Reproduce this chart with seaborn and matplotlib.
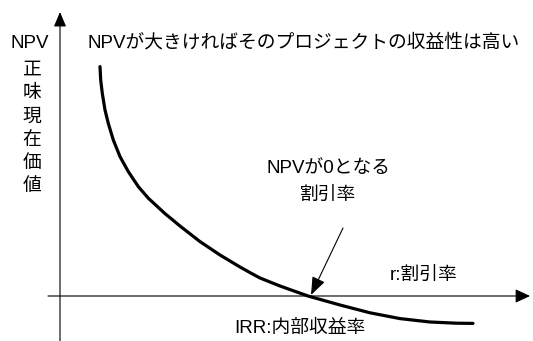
import matplotlib
matplotlib.use("Agg")
import matplotlib.pyplot as plt
import seaborn as sns
import pandas as pd

# Curve data: discount rate r vs NPV (arbitrary units)
rate = [2.0, 2.035, 2.115, 2.25, 2.415, 2.665, 3.0, 3.415, 3.915, 4.415, 5.25,
        6.0, 7.0, 8.0, 9.0, 9.5, 10.0, 11.0, 12.4, 14.0, 15.5, 17.0, 18.5, 19.83, 20.65]
npv = [11.47, 10.8, 10.13, 9.3, 8.63, 7.8, 6.97, 6.22, 5.47, 4.89, 4.12,
       3.5, 2.72, 2.05, 1.45, 1.17, 0.9, 0.5, 0.0, -0.45, -0.84, -1.13, -1.3, -1.36, -1.37]

title_text = "NPVが大きければそのプロジェクトの収益性は高い"
y_label_top = "NPV"
y_label_chars = ["正", "味", "現", "在", "価", "値"]
x_label = "r:割引率"
irr_label = "IRR:内部収益率"
note_lines = ["NPVが0となる", "割引率"]

sns.set_theme(style="white")
plt.rcParams["font.family"] = ["Liberation Sans", "Noto Sans CJK JP", "DejaVu Sans"]

fig = plt.figure(figsize=(5.33, 3.41), dpi=100)
ax = fig.add_axes([0, 0, 1, 1])
ax.set_xlim(-3.0, 23.65)
ax.set_ylim(-2.25, 14.8)
ax.axis("off")

df = pd.DataFrame({"r": rate, "NPV": npv})
sns.lineplot(data=df, x="r", y="NPV", ax=ax, color="black", lw=2.3,
             sort=False, zorder=3, legend=False)

# vertical axis with arrow
ax.annotate("", xy=(0, 14.2), xytext=(0, -2.25),
            arrowprops=dict(arrowstyle="-|>,head_length=0.9,head_width=0.38",
                            mutation_scale=10, lw=0.8, color="black",
                            shrinkA=0, shrinkB=0))
# horizontal axis with arrow
ax.annotate("", xy=(23.5, 0), xytext=(-0.6, 0),
            arrowprops=dict(arrowstyle="-|>,head_length=0.9,head_width=0.42",
                            mutation_scale=10, lw=0.8, color="black",
                            shrinkA=0, shrinkB=0))
# pointer arrow to IRR
ax.annotate("", xy=(12.55, 0.05), xytext=(14.15, 3.4),
            arrowprops=dict(arrowstyle="-|>,head_length=1.1,head_width=0.42",
                            mutation_scale=10, lw=0.8, color="black",
                            shrinkA=0, shrinkB=0), zorder=4)

fs = 13.5
ax.text(1.35, 12.65, title_text, ha="left", va="center", fontsize=fs, color="black")
ax.text(-1.5, 12.65, y_label_top, ha="center", va="center", fontsize=fs, color="black")
for i, ch in enumerate(y_label_chars):
    ax.text(-1.4, (296 - (70 + 23.4 * i)) / 20, ch, ha="center", va="center",
            fontsize=fs, color="black")
ax.text(13.4, 6.4, note_lines[0], ha="center", va="center", fontsize=fs, color="black")
ax.text(13.4, 5.05, note_lines[1], ha="center", va="center", fontsize=fs, color="black")
ax.text(16.5, 1.05, x_label, ha="left", va="center", fontsize=fs, color="black")
ax.text(12.0, -1.6, irr_label, ha="center", va="center", fontsize=fs, color="black")

fig.savefig("out.png", dpi=100, facecolor="white")
